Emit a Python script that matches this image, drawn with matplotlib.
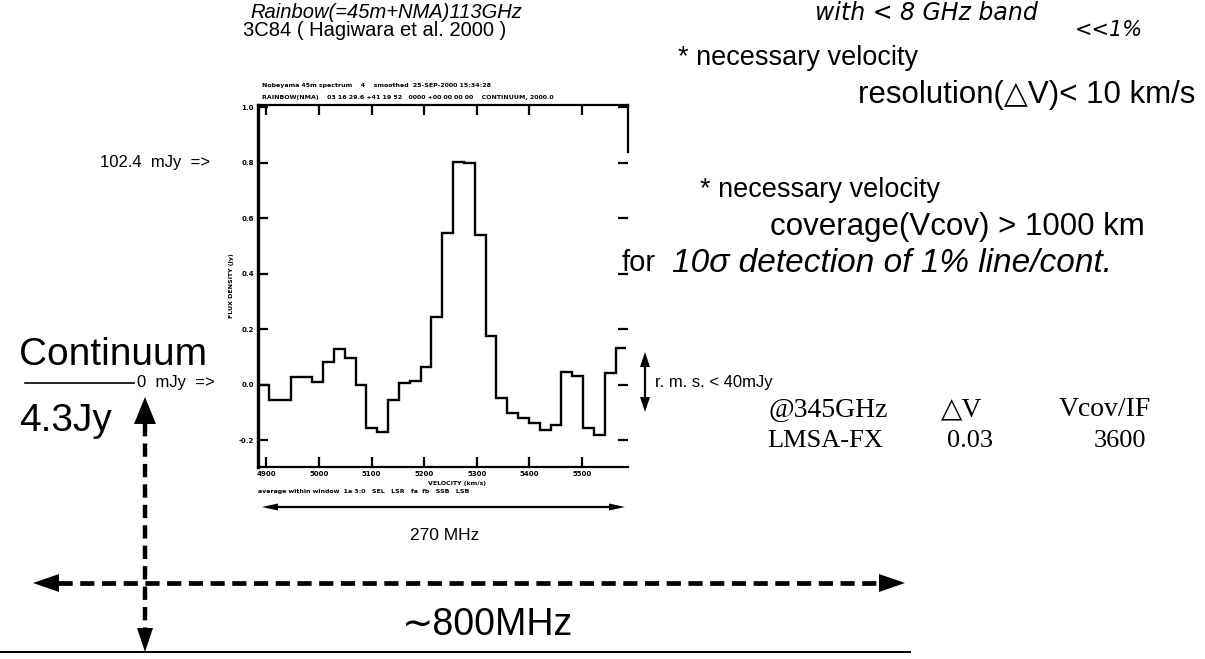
import matplotlib
matplotlib.use("Agg")
import matplotlib.pyplot as plt
from matplotlib.lines import Line2D
from matplotlib.patches import Polygon
import numpy as np

# 3C84 spectrum (Rainbow 113 GHz), relative flux of each channel
flux = [0.000, -0.054, -0.054, 0.029, 0.029, 0.011, 0.083, 0.130, 0.097, 0.000,
        -0.155, -0.170, -0.054, 0.007, 0.014, 0.065, 0.245, 0.548, 0.804, 0.800,
        0.540, 0.177, -0.047, -0.100, -0.120, -0.137, -0.162, -0.144, 0.047, 0.032,
        -0.155, -0.180, 0.043, 0.133]
v_first = 4884.0   # km/s, low edge of first channel
dv = 20.6          # km/s per channel
v_ticks = [4900, 5000, 5100, 5200, 5300, 5400, 5500]
y_ticks = [-0.2, 0.0, 0.2, 0.4, 0.6, 0.8, 1.0]

table_head = ["@345GHz", "△V", "Vcov/IF"]
table_row = ["LMSA-FX", "0.03", "3600"]

SANS = ["Liberation Sans", "DejaVu Sans"]
SERIF = ["Liberation Serif", "DejaVu Serif"]

W, H = 1205, 659
fig = plt.figure(figsize=(W / 100, H / 100), dpi=100)


def P(x, y):
    # pixel (from top-left) -> figure fraction
    return x / W, 1 - y / H


def txt(x, y, s, **kw):
    kw.setdefault("color", "black")
    kw.setdefault("family", SANS)
    fig.text(*P(x, y), s, **kw)


def head(tip, base_dir, length, width):
    # filled triangular arrow head, given in pixels
    tx, ty = tip
    dx, dy = base_dir
    bx, by = tx + dx * length, ty + dy * length
    px, py = -dy * width / 2, dx * width / 2
    pts = [P(tx, ty), P(bx + px, by + py), P(bx - px, by - py)]
    fig.add_artist(Polygon(pts, closed=True, transform=fig.transFigure,
                           color="black", lw=0))


def seg(x0, y0, x1, y1, **kw):
    (a, b), (c, d) = P(x0, y0), P(x1, y1)
    fig.add_artist(Line2D([a, c], [b, d], transform=fig.transFigure,
                          color="black", **kw))


# ---- spectrum panel ----
ax = fig.add_axes([258 / W, 1 - 467 / H, 370 / W, 362 / H])
edges = v_first + dv * np.arange(len(flux) + 1)
ax.stairs(flux, edges, baseline=None, color="black", lw=1.7)
ax.set_xlim(v_first, v_first + (len(flux) + 0.15) * dv)
ax.set_ylim(-0.2955, 1.009)

for side in ["left", "top", "bottom"]:
    ax.spines[side].set_linewidth(1.6)
ax.spines["left"].set_linewidth(2.4)
ax.spines["right"].set_visible(False)
ax.axvline(ax.get_xlim()[1], ymin=0.87, ymax=1.0, color="black", lw=1.6, clip_on=False)

ax.set_xticks(v_ticks)
ax.set_yticks(y_ticks)
ax.set_xticklabels([str(v) for v in v_ticks], fontsize=5, fontweight="bold")
ax.set_yticklabels([f"{v:.1f}" for v in y_ticks], fontsize=5, fontweight="bold")
ax.tick_params(axis="both", direction="in", length=7, width=1.6,
               top=True, right=True, pad=3)
ax.set_ylabel("FLUX DENSITY (Jy)", fontsize=4.5, fontweight="bold", labelpad=3)

# tiny header / footer of the original printout
txt(262, 86, "Nobeyama 45m spectrum    4    smoothed  25-SEP-2000 15:34:28",
    fontsize=4.5, fontweight="bold", va="center", family="DejaVu Sans")
txt(262, 98, "RAINBOW(NMA)    03 16 29.6 +41 19 52   0000 +00 00 00 00    CONTINUUM, 2000.0",
    fontsize=4.5, fontweight="bold", va="center", family="DejaVu Sans")
txt(457, 483, "VELOCITY (km/s)", fontsize=4.5, fontweight="bold", ha="center",
    va="center", family="DejaVu Sans")
txt(258, 492, "average within window  1a 3:0   SEL   LSR   fa  fb   SSB   LSB",
    fontsize=4.5, fontweight="bold", va="center", family="DejaVu Sans")

# ---- titles ----
txt(250, 13, "Rainbow(=45m+NMA)113GHz", fontsize=14.5, style="italic", va="center")
txt(243, 30, "3C84 ( Hagiwara et al. 2000 )", fontsize=14.5, va="center")

# ---- left side labels ----
txt(210, 163, "102.4  mJy  =>", fontsize=12, ha="right", va="center")
txt(19, 355, "Continuum", fontsize=28, va="center")
seg(25, 383, 134, 383, lw=1.2)
txt(137, 382, "0  mJy  =>", fontsize=12, va="center")
txt(19, 421, "4.3Jy", fontsize=28, va="center")

# vertical dashed arrow
seg(145, 423, 145, 632, lw=3.2, ls=(0, (3, 1.6)))
head((145, 397), (0, 1), 27, 22)
head((145, 652), (0, -1), 24, 16)

# horizontal dashed arrow
seg(58, 583, 880, 583, lw=3.4, ls=(0, (3, 1.6)))
head((33, 583), (1, 0), 26, 18)
head((905, 583), (-1, 0), 26, 18)
seg(0, 652, 910, 652, lw=1.4)
txt(487, 625, "∼800MHz", fontsize=27, ha="center", va="center")

# 270 MHz arrow under the panel
seg(272, 507, 615, 507, lw=1.6)
head((262, 507), (1, 0), 16, 7)
head((625, 507), (-1, 0), 16, 7)
txt(445, 535, "270 MHz", fontsize=12.5, ha="center", va="center")

# r.m.s. arrow
seg(645, 365, 645, 399, lw=1.6)
head((645, 352), (0, 1), 15, 10)
head((645, 412), (0, -1), 15, 10)
txt(655, 382, "r. m. s. < 40mJy", fontsize=12, va="center")

# ---- right side text ----
txt(678, 58, "* necessary velocity", fontsize=19.5, va="center")
txt(1195, 95, "resolution(△V)< 10 km/s", fontsize=22.5, ha="right", va="center")
txt(700, 190, "* necessary velocity", fontsize=19.5, va="center")
txt(1145, 227, "coverage(Vcov) > 1000 km", fontsize=22.5, ha="right", va="center")
txt(622, 263, "for", fontsize=21, va="center")
txt(672, 263, "10σ detection of 1% line/cont.", fontsize=24, style="italic",
    va="center")

# table
col_x = [828, 962, 1105]
row_dx = [-3, 8, 15]
for x, dx, h, r in zip(col_x, row_dx, table_head, table_row):
    txt(x, 410, h, fontsize=20, family=SERIF, ha="center", va="center")
    txt(x + dx, 441, r, fontsize=19, family=SERIF, ha="center", va="center")

# handwritten note at the top right
txt(815, 1, "with < 8 GHz band", fontsize=17, family="DejaVu Sans",
    style="italic", va="top")
txt(1075, 30, "<<1%", fontsize=15, family="DejaVu Sans", style="italic",
    va="center")

fig.savefig("out.png", dpi=100)
